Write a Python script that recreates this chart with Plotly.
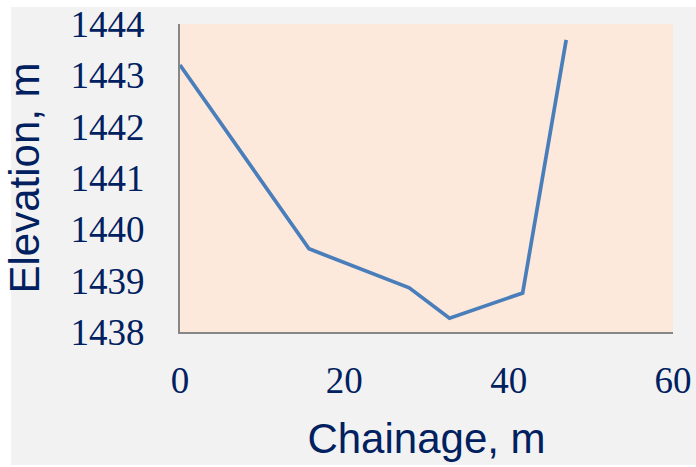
import plotly.graph_objects as go

chainage = [0, 15.7, 27.9, 32.8, 41.7, 47.0]
elevation = [1443.2, 1439.62, 1438.86, 1438.27, 1438.76, 1443.69]
x_ticks = [0, 20, 40, 60]
y_ticks = [1438, 1439, 1440, 1441, 1442, 1443, 1444]

navy = "#002060"
fig = go.Figure()
fig.add_trace(go.Scatter(x=chainage, y=elevation, mode="lines",
                         line=dict(color="#4a7ebb", width=3.7), showlegend=False))

L, R, T, B = 180, 23, 24, 135
W, H = 696, 467
pw, ph = W - L - R, H - T - B

def px(x):
    return (x - L) / pw

def py(y):
    return (H - B - y) / ph

fig.add_shape(type="rect", xref="paper", yref="paper", x0=px(11), x1=px(696), y0=py(465), y1=py(7),
              fillcolor="#f2f2f2", line=dict(width=0), layer="below")
fig.add_shape(type="rect", xref="paper", yref="paper", x0=0, x1=1, y0=0, y1=1,
              fillcolor="#fde9db", line=dict(width=0), layer="below")

fig.update_layout(
    width=W, height=H,
    margin=dict(l=L, r=R, t=T, b=B, autoexpand=False),
    paper_bgcolor="white", plot_bgcolor="rgba(0,0,0,0)",
    xaxis=dict(range=[0, 60], tickvals=x_ticks, ticks="", showgrid=False, zeroline=False,
               showline=True, linecolor="#878787", linewidth=2,
               tickfont=dict(family="Liberation Serif", size=37, color=navy),
               ticklabelstandoff=15,
               title=dict(text="Chainage, m", font=dict(family="Liberation Sans", size=42, color=navy),
                          standoff=23)),
    yaxis=dict(range=[1438, 1444], tickvals=y_ticks, ticks="", showgrid=False, zeroline=False,
               showline=True, linecolor="#878787", linewidth=2,
               tickfont=dict(family="Liberation Serif", size=37, color=navy),
               ticklabelstandoff=26,
               title=dict(text="Elevation, m", font=dict(family="Liberation Sans", size=42, color=navy),
                          standoff=18)),
)
fig.write_html("out.html", config={"displayModeBar": False},
               post_script="document.body.style.margin='0';document.body.style.overflow='hidden';")
